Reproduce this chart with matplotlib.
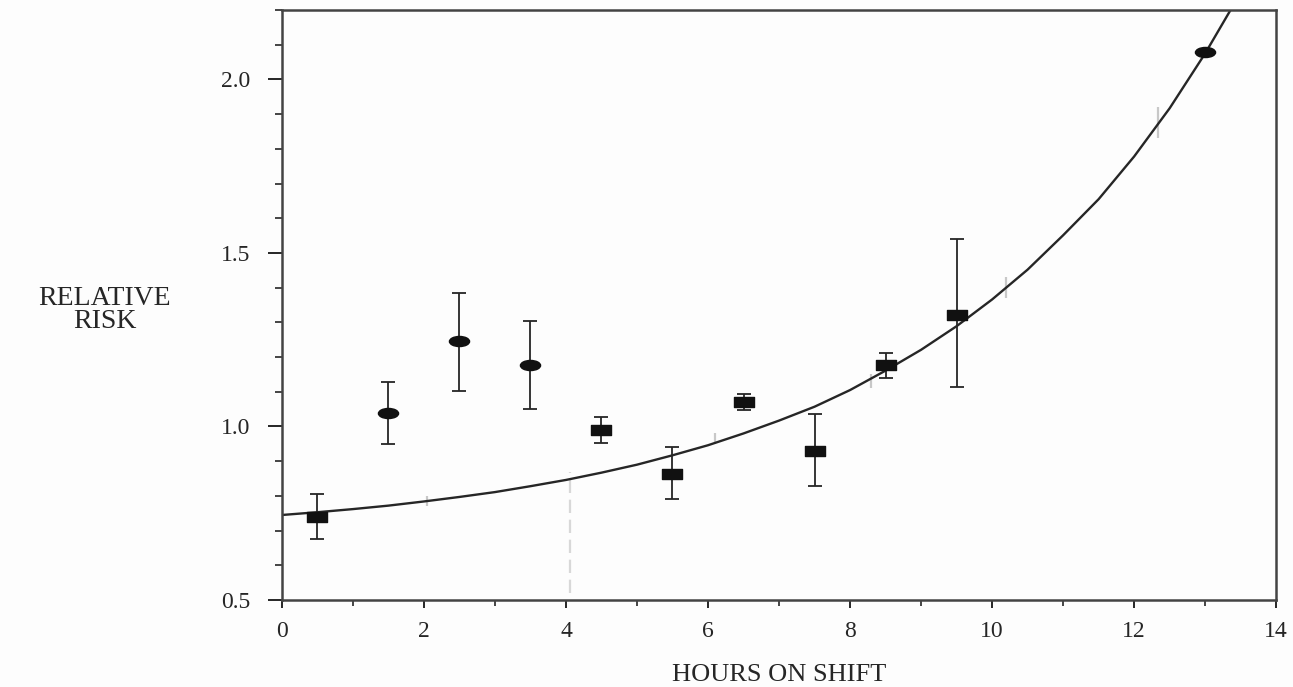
import numpy as np
import matplotlib
matplotlib.use("Agg")
import matplotlib.pyplot as plt
from matplotlib.path import Path
from matplotlib.transforms import Affine2D
from matplotlib.ticker import MultipleLocator

hours_circ = [1.5, 2.5, 3.5, 13.0]
rr_circ = [1.04, 1.245, 1.178, 2.078]
circ_lo = [0.95, 1.103, 1.051, 2.078]
circ_hi = [1.129, 1.385, 1.305, 2.078]

hours_sq = [0.5, 4.5, 5.5, 6.5, 7.5, 8.5, 9.5]
rr_sq = [0.74, 0.99, 0.864, 1.071, 0.93, 1.178, 1.322]
sq_lo = [0.676, 0.953, 0.791, 1.048, 0.829, 1.14, 1.114]
sq_hi = [0.806, 1.028, 0.941, 1.094, 1.036, 1.212, 1.541]

# fitted curve, read at half-hour steps
curve_x = [0, 0.5, 1, 1.5, 2, 2.5, 3, 3.5, 4, 4.5, 5, 5.5, 6, 6.5,
           7, 7.5, 8, 8.5, 9, 9.5, 10, 10.5, 11, 11.5, 12, 12.5, 13, 13.5]
curve_y = [0.745, 0.753, 0.762, 0.772, 0.784, 0.797, 0.811, 0.828, 0.846,
           0.867, 0.890, 0.917, 0.946, 0.980, 1.017, 1.057, 1.105, 1.161,
           1.221, 1.289, 1.366, 1.452, 1.551, 1.655, 1.778, 1.917, 2.075, 2.250]

# faint grey scan marks
faint_x = [2.05, 6.1, 8.3, 10.2, 12.33]
faint_lo = [0.77, 0.95, 1.11, 1.37, 1.83]
faint_hi = [0.80, 0.98, 1.15, 1.43, 1.92]
streak_x = 4.05
streak_lo, streak_hi = 0.52, 0.87

x_ticks = [0, 2, 4, 6, 8, 10, 12, 14]
y_ticks = [0.5, 1.0, 1.5, 2.0]

ink = '#262626'
serif = ['Liberation Serif', 'DejaVu Serif']

# the scan is stretched sideways, so the markers are too
ellipse = Path.unit_circle().transformed(Affine2D().scale(1.0, 0.5))
rect = Path([(-1, -0.55), (1, -0.55), (1, 0.55), (-1, 0.55), (-1, -0.55)],
            [Path.MOVETO, Path.LINETO, Path.LINETO, Path.LINETO, Path.CLOSEPOLY])

fig = plt.figure(figsize=(12.93, 6.87), dpi=100)
fig.patch.set_facecolor('#fdfdfd')
ax = fig.add_axes([0.218, 0.1266, 0.769, 0.8588])
ax.set_facecolor('#fdfdfd')

ax.vlines(faint_x, faint_lo, faint_hi, color='#c8c8c8', lw=1.6, zorder=1)
ax.vlines([streak_x], [streak_lo], [streak_hi], color='#d8d8d8', lw=1.6,
          linestyles=(0, (6, 3)), zorder=1)

ax.plot(curve_x, curve_y, color=ink, lw=1.7, zorder=2)

c_err = [np.array(rr_circ) - np.array(circ_lo), np.array(circ_hi) - np.array(rr_circ)]
s_err = [np.array(rr_sq) - np.array(sq_lo), np.array(sq_hi) - np.array(rr_sq)]
ax.errorbar(hours_circ, rr_circ, yerr=c_err, fmt='none', ecolor=ink,
            elinewidth=1.3, capsize=4.8, capthick=1.3, zorder=3)
ax.errorbar(hours_sq, rr_sq, yerr=s_err, fmt='none', ecolor=ink,
            elinewidth=1.3, capsize=4.8, capthick=1.3, zorder=3)
ax.plot(hours_circ, rr_circ, ls='none', marker=ellipse, ms=14.5, color='#111', zorder=4)
ax.plot(hours_sq, rr_sq, ls='none', marker=rect, ms=14, color='#111', zorder=4)

ax.set_xlim(0, 14)
ax.set_ylim(0.5, 2.2)
ax.set_xticks(x_ticks)
ax.set_yticks(y_ticks)
ax.set_xticklabels([str(t) for t in x_ticks], family=serif, fontsize=17, color=ink)
ax.set_yticklabels([f"{t:.1f}" for t in y_ticks], family=serif, fontsize=17, color=ink)
ax.xaxis.set_minor_locator(MultipleLocator(1))
ax.yaxis.set_minor_locator(MultipleLocator(0.1))
ax.tick_params(axis='x', which='major', direction='out', length=6, width=1.4, color=ink, pad=9)
ax.tick_params(axis='x', which='minor', direction='out', length=4, width=1.2, color=ink)
ax.tick_params(axis='y', which='major', direction='out', length=10, width=1.4, color=ink, pad=13)
ax.tick_params(axis='y', which='minor', direction='out', length=5, width=1.2, color=ink)

for side in ['left', 'right', 'top', 'bottom']:
    ax.spines[side].set_color('#444')
    ax.spines[side].set_linewidth(1.8)

ax.text(0.5, -0.127, "HOURS ON SHIFT", transform=ax.transAxes, ha='center', va='center',
        family=serif, fontsize=19, color=ink)
ax.text(-0.178, 0.4915, "RELATIVE\nRISK", transform=ax.transAxes, ha='center', va='center',
        family=serif, fontsize=20, color=ink, linespacing=0.85)

fig.savefig("out.png", dpi=100, facecolor=fig.get_facecolor())
